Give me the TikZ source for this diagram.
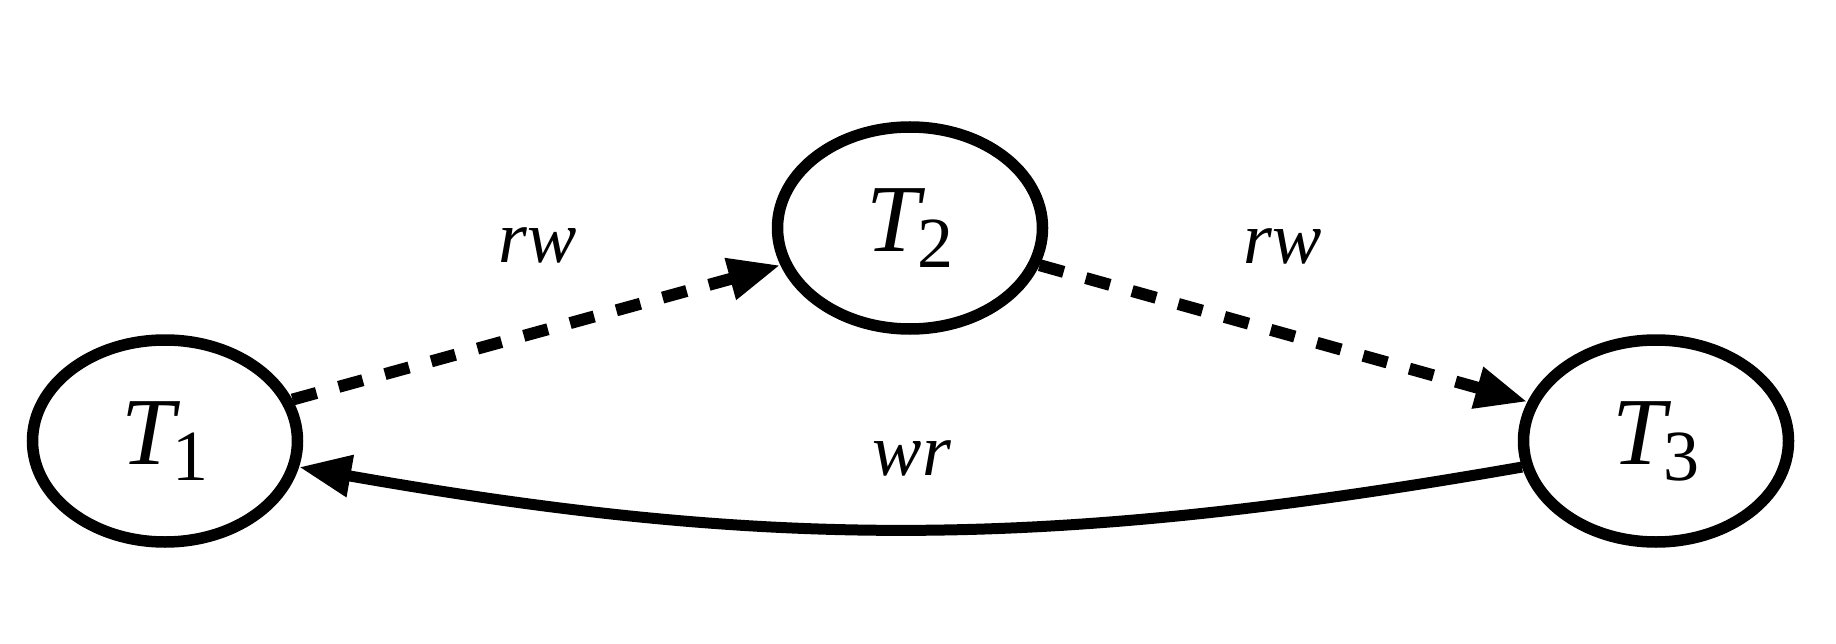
\documentclass[tikz,border=0pt]{standalone}
\usepackage{fontspec}
\setmainfont{Liberation Serif}
\usetikzlibrary{shapes.geometric,arrows.meta}
\newcommand\mytsub[1]{\textit{T}\kern-9pt\raisebox{-16pt}{\fontsize{72}{72}\selectfont #1}}
\begin{document}
\begin{tikzpicture}[x=1pt,y=-1pt,
  tnode/.style={ellipse,draw,line width=11.5pt,minimum width=265pt,minimum height=202pt,inner sep=0pt,font=\fontsize{96}{96}\selectfont},
  lbl/.style={font=\fontsize{74}{74}\selectfont\itshape,inner sep=0pt},
  rwedge/.style={line width=12pt,dash pattern=on 25pt off 23pt,-{Triangle[length=52pt,width=40pt]}},
  wredge/.style={line width=11pt,-{Triangle[length=52pt,width=40pt]}}]
\useasboundingbox (0,0) rectangle (1836,644);
\node[tnode] (T1) at (165,441) {\mytsub{1}};
\node[tnode] (T2) at (910,228) {\mytsub{2}};
\node[tnode] (T3) at (1656,441) {\mytsub{3}};
\draw[rwedge] (T1.18) -- (T2.196);
\draw[rwedge] (T2.344) -- (T3.163);
\draw[wredge] (T3.191) .. controls (1048,550) and (771,550) .. (T1.349);
\node[lbl] (l1) at (538,245) {rw};
\node[lbl] (l2) at (1283,246) {rw};
\node[lbl] (l3) at (912,458) {wr};
\end{tikzpicture}
\end{document}
